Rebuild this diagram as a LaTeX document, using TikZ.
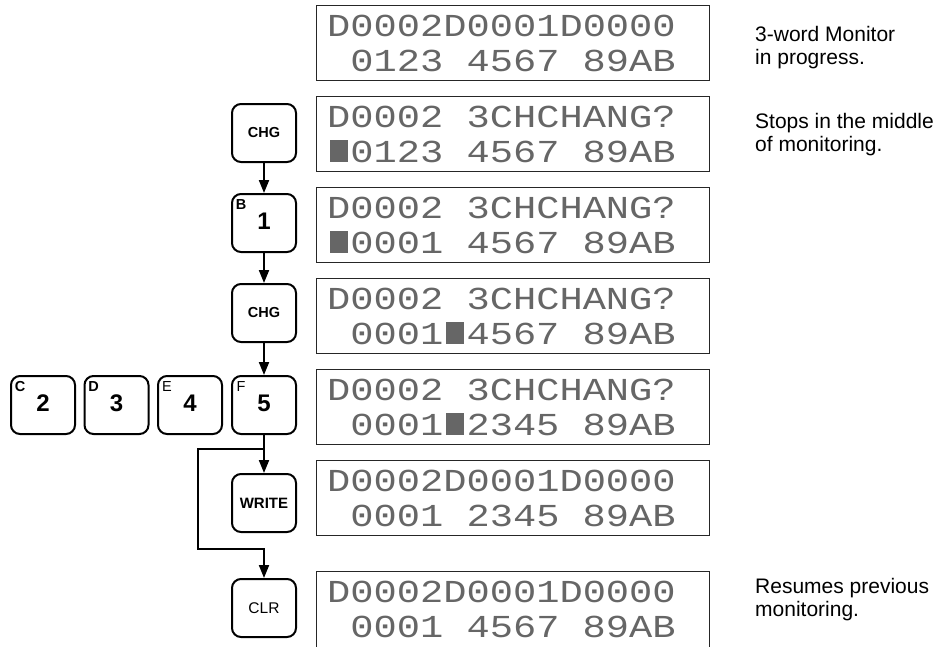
\documentclass[tikz,border=0pt]{standalone}
\usepackage{fontspec}
\setmainfont{Liberation Sans}
\newfontfamily\lcdfont[FakeStretch=1.21]{Liberation Mono}
\usetikzlibrary{arrows.meta,calc}
\newcommand\lcdcur{\makebox[23.2pt][c]{\textcolor{black!60}{\rule{18pt}{22pt}}}}
\newcommand\lcdsp{\hspace*{23.2pt}}
\begin{document}
\begin{tikzpicture}[x=1pt,y=-1pt,
  key/.style={draw,line width=2pt,rounded corners=9pt,minimum width=64pt,minimum height=58pt,inner sep=0pt,font=\fontsize{14.5}{14.5}\selectfont\bfseries},
  dig/.style={key,font=\fontsize{24}{24}\selectfont\bfseries},
  let/.style={inner sep=0pt,font=\fontsize{14.5}{14.5}\selectfont\bfseries},
  letr/.style={inner sep=0pt,font=\fontsize{14.5}{14.5}\selectfont},
  lcdbox/.style={draw=black!85,line width=1.3pt,minimum width=392.7pt,minimum height=75pt,inner sep=0pt},
  lcd/.style={anchor=base west,inner sep=0pt,text=black!60,font=\fontsize{32}{32}\lcdfont},
  note/.style={anchor=base west,inner sep=0pt,font=\fontsize{21}{21}\selectfont},
  arr/.style={line width=2pt,-{Triangle[length=13pt,width=10pt]}}]
\fill[white] (0,0) rectangle (938,646);
\useasboundingbox (0,0) rectangle (938,646);

% LCD boxes
\node[lcdbox] (d1) at (513,43) {};
\node[lcdbox] (d2) at (513,134) {};
\node[lcdbox] (d3) at (513,225) {};
\node[lcdbox] (d4) at (513,316) {};
\node[lcdbox] (d5) at (513,407) {};
\node[lcdbox] (d6) at (513,498) {};
\node[lcdbox,minimum height=80pt] (d7) at (513,611.6) {};

% LCD texts
\node[lcd] (d1a) at (327,36) {D0002D0001D0000};
\node[lcd] (d1b) at (327,71) {\lcdsp 0123 4567 89AB};
\node[lcd] (d2a) at (327,127) {D0002 3CHCHANG?};
\node[lcd] (d2b) at (327,162) {\lcdcur0123 4567 89AB};
\node[lcd] (d3a) at (327,218) {D0002 3CHCHANG?};
\node[lcd] (d3b) at (327,253) {\lcdcur0001 4567 89AB};
\node[lcd] (d4a) at (327,309) {D0002 3CHCHANG?};
\node[lcd] (d4b) at (327,344) {\lcdsp 0001\lcdcur4567 89AB};
\node[lcd] (d5a) at (327,400) {D0002 3CHCHANG?};
\node[lcd] (d5b) at (327,435) {\lcdsp 0001\lcdcur2345 89AB};
\node[lcd] (d6a) at (327,491) {D0002D0001D0000};
\node[lcd] (d6b) at (327,526) {\lcdsp 0001 2345 89AB};
\node[lcd] (d7a) at (327,602) {D0002D0001D0000};
\node[lcd] (d7b) at (327,637) {\lcdsp 0001 4567 89AB};

% keys
\node[key] (k1) at (264,133) {CHG};
\node[dig] (k2) at (264,223) {\raisebox{4pt}{1}};
\node[let] (k2l) at ($(k2.north west)+(10,12)$) {B};
\node[key] (k3) at (264,313) {CHG};
\node[dig] (ka) at (43,405) {\raisebox{4pt}{2}};
\node[let] (kal) at ($(ka.north west)+(10,12)$) {C};
\node[dig] (kb) at (116.5,405) {\raisebox{4pt}{3}};
\node[let] (kbl) at ($(kb.north west)+(10,12)$) {D};
\node[dig] (kc) at (190,405) {\raisebox{4pt}{4}};
\node[letr] (kcl) at ($(kc.north west)+(10,12)$) {E};
\node[dig] (k5) at (264,405) {\raisebox{4pt}{5}};
\node[letr] (k5l) at ($(k5.north west)+(10,12)$) {F};
\node[key,font=\fontsize{15}{15}\selectfont\bfseries] (k6) at (264,503) {WRITE};
\node[key,font=\fontsize{15.5}{15.5}\selectfont] (k7) at (264,608) {CLR};

% connectors
\draw[arr] (k1) -- (k2);
\draw[arr] (k2) -- (k3);
\draw[arr] (k3) -- (k5);
\draw[arr] (k5) -- (k6);
\coordinate (b0) at (264,449);
\coordinate (b1) at (198,449);
\coordinate (b2) at (198,549);
\draw[arr] (b0) -- (b1) -- (b2) -| (k7.north);

% notes
\node[note] (n1a) at (755,41) {3-word Monitor};
\node[note] (n1b) at (755,64) {in progress.};
\node[note] (n2a) at (755,128) {Stops in the middle};
\node[note] (n2b) at (755,151) {of monitoring.};
\node[note] (n3a) at (755,593) {Resumes previous};
\node[note] (n3b) at (755,616) {monitoring.};
\end{tikzpicture}
\end{document}
